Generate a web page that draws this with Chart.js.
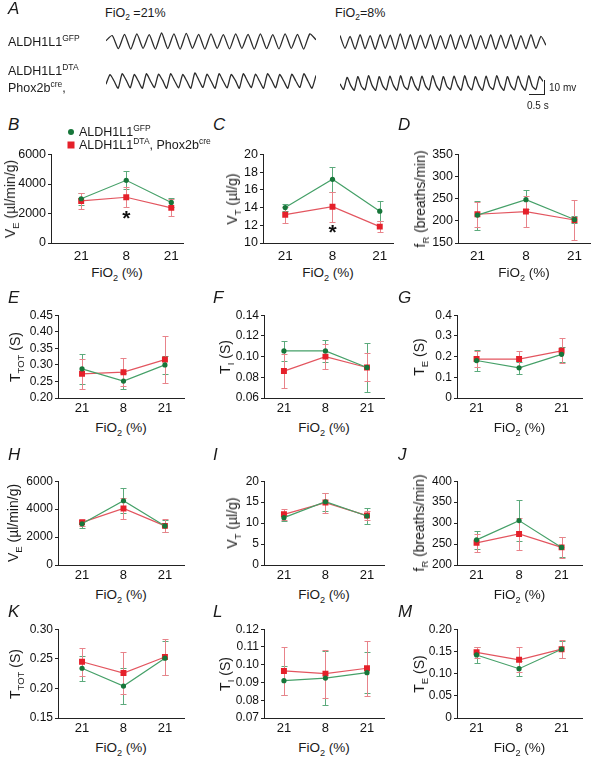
<!DOCTYPE html>
<html>
<head>
<meta charset="utf-8">
<script src="https://cdn.jsdelivr.net/npm/chart.js@4.4.1/dist/chart.umd.min.js"></script>
<style>
    body { margin: 0; background: #fff; font-family: "Liberation Sans", Arial, sans-serif; color: #1a1a1a; }
    #page { position: relative; width: 597px; height: 763px; overflow: hidden; }
    #page canvas { position: absolute; }
    .txt { position: absolute; white-space: nowrap; line-height: 1; }
    .letter { font-style: italic; font-size: 17px; }
    .ytitle { font-size: 14px; transform: translate(-50%, -50%) rotate(-90deg); }
    .xtitle { font-size: 13.5px; transform: translate(-50%, -50%); }
    .lab { font-size: 12.5px; transform: translateY(-50%); }
    sub, sup { font-size: 68%; line-height: 0; }
    .scalebar { position: absolute; border-right: 1.3px solid #222; border-bottom: 1.3px solid #222; }
    .mk { position: absolute; transform: translate(-50%, -50%); }
</style>
</head>
<body>
<div id="page"></div>
<script>

/*===================================================================================*/
/*  data
/*===================================================================================*/
var fio2Ticks = ['21', '8', '21'];

// B
var veGfp = [3000, 4250, 2750];
var veGfpErr = [420, 620, 300];
var veDta = [2850, 3100, 2380];
var veDtaErr = [550, 680, 570];
var veTicks = ['0', '2000', '4000', '6000'];
var veStar = 1900;

// C
var vtGfp = [14.0, 17.2, 13.6];
var vtGfpErr = [0.4, 1.4, 1.1];
var vtDta = [13.2, 14.1, 11.85];
var vtDtaErr = [0.9, 1.7, 0.6];
var vtTicks = ['10', '12', '14', '16', '18', '20'];
var vtStar = 11.6;

// D
var frGfp = [213, 248, 203];
var frGfpErr = [33, 21, 8];
var frDta = [215, 221, 202];
var frDtaErr = [28, 35, 45];
var frTicks = ['150', '200', '250', '300', '350'];

// E
var ttotGfp = [0.288, 0.251, 0.300];
var ttotGfpErr = [0.046, 0.025, 0.028];
var ttotDta = [0.273, 0.278, 0.316];
var ttotDtaErr = [0.046, 0.042, 0.070];
var ttotTicks = ['0.20', '0.25', '0.30', '0.35', '0.40', '0.45'];

// F
var tiGfp = [0.1055, 0.1055, 0.0895];
var tiGfpErr = [0.0095, 0.0105, 0.0235];
var tiDta = [0.086, 0.100, 0.0895];
var tiDtaErr = [0.0165, 0.012, 0.0135];
var tiTicks = ['0.06', '0.08', '0.10', '0.12', '0.14'];

// G
var teGfp = [0.181, 0.146, 0.211];
var teGfpErr = [0.05, 0.029, 0.035];
var teDta = [0.188, 0.188, 0.228];
var teDtaErr = [0.04, 0.037, 0.06];
var teTicks = ['0', '0.1', '0.2', '0.3', '0.4'];

// H
var ve2Gfp = [2950, 4600, 2800];
var ve2GfpErr = [280, 900, 420];
var ve2Dta = [3050, 4050, 2800];
var ve2DtaErr = [230, 750, 470];
var ve2Ticks = ['0', '2000', '4000', '6000'];

// I
var vt2Gfp = [11.3, 15.1, 11.7];
var vt2GfpErr = [0.7, 2.1, 2.0];
var vt2Dta = [12.1, 14.9, 11.8];
var vt2DtaErr = [1.3, 2.4, 1.1];
var vt2Ticks = ['0', '5', '10', '15', '20'];

// J
var fr2Gfp = [260, 306, 242];
var fr2GfpErr = [22, 49, 24];
var fr2Dta = [253, 274, 242];
var fr2DtaErr = [22, 39, 26];
var fr2Ticks = ['200', '250', '300', '350', '400'];

// K
var ttot2Gfp = [0.234, 0.204, 0.251];
var ttot2GfpErr = [0.021, 0.03, 0.029];
var ttot2Dta = [0.245, 0.226, 0.253];
var ttot2DtaErr = [0.024, 0.035, 0.03];
var ttot2Ticks = ['0.15', '0.20', '0.25', '0.30'];

// L
var ti2Gfp = [0.0910, 0.0925, 0.0955];
var ti2GfpErr = [0.008, 0.015, 0.0115];
var ti2Dta = [0.0965, 0.0950, 0.0980];
var ti2DtaErr = [0.0135, 0.0135, 0.0155];
var ti2Ticks = ['0.07', '0.08', '0.09', '0.10', '0.11', '0.12'];

// M
var te2Gfp = [0.142, 0.111, 0.155];
var te2GfpErr = [0.017, 0.017, 0.019];
var te2Dta = [0.148, 0.131, 0.155];
var te2DtaErr = [0.013, 0.028, 0.02];
var te2Ticks = ['0', '0.05', '0.10', '0.15', '0.20'];

// A - plethysmography traces (normalised amplitude, one value per turning point)
var traceGfp21 = [0.55, 0.85, 0.08, 0.92, 0.05, 0.95, 0.1, 0.9, 0.05, 1.0, 0.08, 0.95, 0.05, 0.98, 0.1, 0.92, 0.05,
    0.95, 0.1, 0.9, 0.06, 0.95, 0.1, 0.92, 0.05, 0.95, 0.08, 0.9, 0.06, 0.95, 0.1, 0.92, 0.05, 0.95, 0.6];
var traceGfp8 = [0.9, 0.1, 0.85, 0.05, 0.95, 0.08, 0.9, 0.05, 0.95, 0.1, 0.92, 0.05, 1.0, 0.08, 0.95, 0.05, 0.92,
    0.1, 0.95, 0.05, 0.9, 0.08, 0.95, 0.05, 0.92, 0.1, 0.95, 0.05, 0.9, 0.08, 0.95, 0.05, 0.92, 0.1, 0.95, 0.05, 0.9,
    0.08, 0.95, 0.1, 0.85, 0.3];
var traceDta21 = [0.3, 0.9, 0.5, 0.05, 0.95, 0.55, 0.08, 0.9, 0.5, 0.05, 0.95, 0.5, 0.1, 0.92, 0.55, 0.05, 0.95, 0.5,
    0.08, 0.9, 0.5, 0.05, 1.0, 0.55, 0.1, 0.92, 0.5, 0.05, 0.95, 0.5, 0.08, 0.9, 0.55, 0.05, 0.95, 0.5, 0.1, 0.92, 0.5,
    0.05, 0.95, 0.55, 0.08, 0.9, 0.5, 0.05, 0.92, 0.5, 0.1, 0.95, 0.5, 0.05, 0.85];
var traceDta8 = [0.45, 0.1, 0.85, 0.35, 0.05, 0.9, 0.3, 0.08, 0.95, 0.35, 0.05, 0.9, 0.32, 0.08, 0.92, 0.35, 0.05,
    0.95, 0.3, 0.1, 0.9, 0.35, 0.05, 0.92, 0.32, 0.08, 0.95, 0.35, 0.05, 0.9, 0.3, 0.1, 0.92, 0.35, 0.05, 0.95, 0.32,
    0.08, 0.9, 0.35, 0.05, 0.92, 0.3, 0.1, 0.95, 0.35, 0.05, 0.9, 0.32, 0.08, 0.92, 0.35, 0.05, 0.95, 0.3, 0.1, 0.9,
    0.6];

/*===================================================================================*/
/*  panel list
/*===================================================================================*/
var panels = [
    { id: 'B', row: 0, col: 0, gfp: veGfp, gfpErr: veGfpErr, dta: veDta, dtaErr: veDtaErr, ticks: veTicks, star: veStar, title: 'V<sub>E</sub> (µl/min/g)', titleX: 10 },
    { id: 'C', row: 0, col: 1, gfp: vtGfp, gfpErr: vtGfpErr, dta: vtDta, dtaErr: vtDtaErr, ticks: vtTicks, star: vtStar, title: 'V<sub>T</sub> (µl/g)', titleX: 232 },
    { id: 'D', row: 0, col: 2, gfp: frGfp, gfpErr: frGfpErr, dta: frDta, dtaErr: frDtaErr, ticks: frTicks, title: 'f<sub>R</sub> (breaths/min)', titleX: 420 },
    { id: 'E', row: 1, col: 0, gfp: ttotGfp, gfpErr: ttotGfpErr, dta: ttotDta, dtaErr: ttotDtaErr, ticks: ttotTicks, title: 'T<sub>TOT</sub> (S)', titleX: 15 },
    { id: 'F', row: 1, col: 1, gfp: tiGfp, gfpErr: tiGfpErr, dta: tiDta, dtaErr: tiDtaErr, ticks: tiTicks, title: 'T<sub>I</sub> (S)', titleX: 225 },
    { id: 'G', row: 1, col: 2, gfp: teGfp, gfpErr: teGfpErr, dta: teDta, dtaErr: teDtaErr, ticks: teTicks, title: 'T<sub>E</sub> (S)', titleX: 419 },
    { id: 'H', row: 2, col: 0, gfp: ve2Gfp, gfpErr: ve2GfpErr, dta: ve2Dta, dtaErr: ve2DtaErr, ticks: ve2Ticks, title: 'V<sub>E</sub> (µl/min/g)', titleX: 13 },
    { id: 'I', row: 2, col: 1, gfp: vt2Gfp, gfpErr: vt2GfpErr, dta: vt2Dta, dtaErr: vt2DtaErr, ticks: vt2Ticks, title: 'V<sub>T</sub> (µl/g)', titleX: 232 },
    { id: 'J', row: 2, col: 2, gfp: fr2Gfp, gfpErr: fr2GfpErr, dta: fr2Dta, dtaErr: fr2DtaErr, ticks: fr2Ticks, title: 'f<sub>R</sub> (breaths/min)', titleX: 419 },
    { id: 'K', row: 3, col: 0, gfp: ttot2Gfp, gfpErr: ttot2GfpErr, dta: ttot2Dta, dtaErr: ttot2DtaErr, ticks: ttot2Ticks, title: 'T<sub>TOT</sub> (S)', titleX: 15 },
    { id: 'L', row: 3, col: 1, gfp: ti2Gfp, gfpErr: ti2GfpErr, dta: ti2Dta, dtaErr: ti2DtaErr, ticks: ti2Ticks, title: 'T<sub>I</sub> (S)', titleX: 225 },
    { id: 'M', row: 3, col: 2, gfp: te2Gfp, gfpErr: te2GfpErr, dta: te2Dta, dtaErr: te2DtaErr, ticks: te2Ticks, title: 'T<sub>E</sub> (S)', titleX: 419 }
];

// layout: first row is a little wider than the three rows below it
var rowTop = [154, 315, 481, 629];
var rowBottom = [243, 398, 565, 718];
var letterX = [8, 213, 398];
var letterY = [125, 298, 455, 612];
var colGeom = [
    [ { axis: 51, w: 132, min: -0.67, max: 2.26 }, { axis: 263, w: 130, min: -0.47, max: 2.28 }, { axis: 458, w: 132, min: -0.4, max: 2.32 } ],
    [ { axis: 58, w: 126, min: -0.58, max: 2.46 }, { axis: 264, w: 120, min: -0.48, max: 2.41 }, { axis: 457, w: 125, min: -0.46, max: 2.48 } ]
];
var yAxisW = 56, padTop = 9, padRight = 12, xAxisH = 22;
var fontFamily = '"Liberation Sans", Arial, sans-serif';

var page = document.getElementById('page');

function addText(html, x, y, cls) {
    var el = document.createElement('div');
    el.className = 'txt ' + cls;
    el.innerHTML = html;
    el.style.left = x + 'px';
    el.style.top = y + 'px';
    page.appendChild(el);
    return el;
}

function toPoints(values) {
    return values.map(function(v, i) { return { x: i, y: v }; });
}

/*===================================================================================*/
/*  plugins
/*===================================================================================*/
var errorBars = {
    id: 'errorBars',
    beforeDatasetsDraw: function(chart) {
        var ctx = chart.ctx;
        var xs = chart.scales.x, ys = chart.scales.y;
        chart.data.datasets.forEach(function(ds) {
            if (!ds.errors) return;
            ctx.save();
            ctx.strokeStyle = ds.errorColor;
            ctx.lineWidth = 1;
            ds.data.forEach(function(pt, i) {
                var x = Math.round(xs.getPixelForValue(pt.x)) + 0.5;
                var top = Math.round(ys.getPixelForValue(pt.y + ds.errors[i])) + 0.5;
                var bot = Math.round(ys.getPixelForValue(pt.y - ds.errors[i])) + 0.5;
                ctx.beginPath();
                ctx.moveTo(x, top); ctx.lineTo(x, bot);
                ctx.moveTo(x - 3, top); ctx.lineTo(x + 3, top);
                ctx.moveTo(x - 3, bot); ctx.lineTo(x + 3, bot);
                ctx.stroke();
            });
            ctx.restore();
        });
    }
};

var starMark = {
    id: 'starMark',
    afterDatasetsDraw: function(chart, args, opts) {
        if (opts.value === undefined || opts.value === null) return;
        var ctx = chart.ctx;
        ctx.save();
        ctx.font = 'bold 21px ' + fontFamily;
        ctx.fillStyle = '#111';
        ctx.textAlign = 'center';
        ctx.textBaseline = 'middle';
        ctx.fillText('*', chart.scales.x.getPixelForValue(1), chart.scales.y.getPixelForValue(opts.value) + 4);
        ctx.restore();
    }
};

/*===================================================================================*/
/*  summary panels B - M
/*===================================================================================*/
function drawPanel(p) {
    var g = colGeom[p.row === 0 ? 0 : 1][p.col];
    var top = rowTop[p.row], plotH = rowBottom[p.row] - rowTop[p.row];
    var canvas = document.createElement('canvas');
    canvas.width = yAxisW + g.w + padRight;
    canvas.height = padTop + plotH + xAxisH;
    canvas.style.left = (g.axis - yAxisW) + 'px';
    canvas.style.top = (top - padTop) + 'px';
    page.appendChild(canvas);

    var yVals = p.ticks.map(parseFloat);
    var tickSize = p.row === 0 ? 12.5 : 12;

    new Chart(canvas, {
        type: 'line',
        data: {
            datasets: [{
                data: toPoints(p.gfp),
                errors: p.gfpErr,
                errorColor: '#5caa7c',
                borderColor: '#45a068',
                borderWidth: 1.2,
                pointStyle: 'circle',
                pointRadius: 2.6,
                pointBackgroundColor: '#17763a',
                pointBorderWidth: 0
            }, {
                data: toPoints(p.dta),
                errors: p.dtaErr,
                errorColor: '#e8838a',
                borderColor: '#e3555f',
                borderWidth: 1.2,
                pointStyle: 'rect',
                pointRadius: 4.2,
                pointBackgroundColor: '#e5202a',
                pointBorderWidth: 0
            }]
        },
        options: {
            responsive: false,
            animation: false,
            devicePixelRatio: 1,
            layout: { padding: { top: padTop, right: padRight, left: 0, bottom: 0 } },
            plugins: {
                legend: { display: false },
                tooltip: { enabled: false },
                starMark: { value: p.star }
            },
            scales: {
                x: {
                    type: 'linear',
                    min: g.min,
                    max: g.max,
                    afterBuildTicks: function(s) { s.ticks = [0, 1, 2].map(function(v) { return { value: v }; }); },
                    afterFit: function(s) { s.height = xAxisH; },
                    ticks: {
                        callback: function(v) { return fio2Ticks[v]; },
                        font: { family: fontFamily, size: p.row === 0 ? 13.5 : 13 },
                        color: '#111',
                        padding: p.row === 0 ? 5 : 3,
                        maxRotation: 0,
                        autoSkip: false
                    },
                    grid: { display: true, drawOnChartArea: false, drawTicks: false },
                    border: { display: true, color: '#222', width: 1 }
                },
                y: {
                    min: yVals[0],
                    max: yVals[yVals.length - 1],
                    afterBuildTicks: function(s) { s.ticks = yVals.map(function(v) { return { value: v }; }); },
                    afterFit: function(s) { s.width = yAxisW; },
                    ticks: {
                        callback: function(v, i) { return p.ticks[i]; },
                        font: { family: fontFamily, size: tickSize },
                        color: '#111',
                        padding: 2,
                        autoSkip: false
                    },
                    grid: { display: true, drawOnChartArea: false, drawTicks: true, tickLength: 3, color: '#222' },
                    border: { display: true, color: '#222', width: 1 }
                }
            }
        },
        plugins: [errorBars, starMark]
    });

    // texts around the plot
    addText(p.id, letterX[p.col], letterY[p.row] - 9, 'letter');
    addText(p.title, p.titleX, top + plotH / 2, 'ytitle');
    addText('FiO<sub>2</sub> (%)', g.axis + g.w / 2, rowBottom[p.row] + 30, 'xtitle');
}

panels.forEach(drawPanel);

/*===================================================================================*/
/*  panel A - traces
/*===================================================================================*/
function drawTrace(values, left, top, w, h) {
    var canvas = document.createElement('canvas');
    canvas.width = w;
    canvas.height = h;
    canvas.style.left = left + 'px';
    canvas.style.top = top + 'px';
    page.appendChild(canvas);
    new Chart(canvas, {
        type: 'line',
        data: {
            datasets: [{
                data: toPoints(values),
                borderColor: '#2b2b2b',
                borderWidth: 1.3,
                pointRadius: 0,
                tension: 0.2
            }]
        },
        options: {
            responsive: false,
            animation: false,
            devicePixelRatio: 1,
            layout: { padding: 0 },
            plugins: { legend: { display: false }, tooltip: { enabled: false } },
            scales: {
                x: { type: 'linear', display: false, min: 0, max: values.length - 1 },
                y: { display: false, min: -0.06, max: 1.06 }
            }
        }
    });
}

drawTrace(traceGfp21, 106, 32, 210, 19);
drawTrace(traceGfp8, 340, 33, 206, 18);
drawTrace(traceDta21, 106, 72, 210, 18);
drawTrace(traceDta8, 340, 74, 203, 18);

addText('A', 8, 0, 'letter');
addText('FiO<sub>2</sub> =21%', 105, 13, 'lab');
addText('FiO<sub>2</sub>=8%', 335, 13, 'lab');
addText('ALDH1L1<sup>GFP</sup>', 8, 42, 'lab');
addText('ALDH1L1<sup>DTA</sup>', 8, 71, 'lab');
addText('Phox2b<sup>cre</sup>,', 8, 88, 'lab');

var bar = document.createElement('div');
bar.className = 'scalebar';
bar.style.left = '529px';
bar.style.top = '80px';
bar.style.width = '15px';
bar.style.height = '14px';
page.appendChild(bar);
addText('10 mv', 549, 88, 'lab').style.fontSize = '10px';
addText('0.5 s', 527, 106, 'lab').style.fontSize = '10px';

// legend of B
var dot = document.createElement('div');
dot.className = 'mk';
dot.style.cssText += 'left:71px;top:132px;width:6px;height:6px;border-radius:50%;background:#17763a;';
page.appendChild(dot);
var sq = document.createElement('div');
sq.className = 'mk';
sq.style.cssText += 'left:71px;top:145px;width:7px;height:7px;background:#e5202a;';
page.appendChild(sq);
addText('ALDH1L1<sup>GFP</sup>', 79, 132, 'lab');
addText('ALDH1L1<sup>DTA</sup>, Phox2b<sup>cre</sup>', 79, 145, 'lab');

</script>
</body>
</html>
